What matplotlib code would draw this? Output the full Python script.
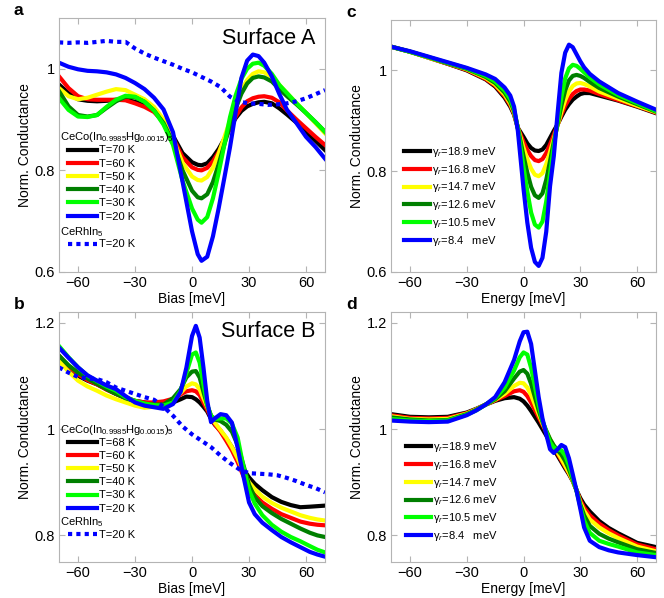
import matplotlib
matplotlib.use("Agg")
from matplotlib import pyplot as plt
from matplotlib.lines import Line2D
from matplotlib.ticker import FuncFormatter

plt.rcParams['font.family'] = ['Liberation Sans', 'DejaVu Sans']
plt.rcParams['mathtext.fontset'] = 'custom'
plt.rcParams['mathtext.rm'] = 'Liberation Sans'
plt.rcParams['mathtext.it'] = 'Liberation Sans:italic'

colors = ['#000000', '#ff0000', '#ffff00', '#007f00', '#00ff00', '#0000ff']

# ---- panel a: Surface A, measured
temps_a = ['T=70 K', 'T=60 K', 'T=50 K', 'T=40 K', 'T=30 K', 'T=20 K']
bias_a = [-70, -65, -60, -55, -50, -45, -40, -35, -30, -25, -20, -15, -10, -5, 0, 3, 5, 8,
          11, 14, 17, 20, 23, 26, 29, 32, 35, 38, 42, 46, 50, 55, 60, 65, 70]
a_70K = [.969, .952, .940, .937, .936, .937, .939, .939, .935, .928, .917, .898, .868, .834, .816, .811, .810, .814,
         .826, .842, .862, .884, .903, .917, .926, .931, .934, .935, .932, .922, .910, .894, .876, .858, .840]
a_60K = [.985, .962, .946, .940, .939, .939, .939, .938, .932, .925, .915, .895, .864, .826, .806, .801, .800, .805,
         .818, .836, .858, .883, .906, .924, .936, .942, .945, .946, .943, .934, .918, .900, .883, .866, .850]
a_50K = [.962, .946, .940, .943, .949, .955, .960, .958, .949, .940, .925, .900, .862, .815, .788, .781, .780, .787,
         .805, .833, .865, .898, .930, .958, .978, .990, .995, .993, .984, .968, .952, .932, .913, .893, .873]
a_40K = [.956, .926, .909, .906, .909, .923, .936, .945, .944, .935, .918, .893, .855, .800, .760, .747, .745, .753,
         .777, .812, .851, .888, .922, .951, .971, .982, .985, .983, .975, .960, .946, .930, .913, .895, .876]
a_30K = [.942, .919, .906, .905, .909, .925, .939, .947, .945, .935, .918, .890, .850, .780, .725, .703, .697, .708,
         .745, .795, .850, .905, .948, .980, 1.000, 1.010, 1.012, 1.006, .990, .968, .952, .932, .913, .895, .876]
a_20K = [1.012, 1.004, .999, .996, .995, .993, .989, .982, .972, .960, .943, .920, .875, .778, .680, .635, .622, .630,
         .670, .725, .785, .846, .915, .982, 1.016, 1.028, 1.025, 1.012, .985, .950, .919, .893, .866, .846, .823]
rh_bias_a = [-70, -65, -60, -55, -50, -45, -40, -35, -30, -25, -20, -15, -10, -5, 0,
             5, 10, 15, 20, 25, 30, 35, 40, 45, 50, 55, 60, 65, 70]
rh_a = [1.052, 1.051, 1.052, 1.051, 1.053, 1.055, 1.053, 1.053, 1.040, 1.030, 1.022, 1.015, 1.008, 1.000, .993,
        .984, .975, .964, .945, .935, .932, .931, .929, .930, .932, .936, .942, .950, .958]

# ---- panel b: Surface B, measured
temps_b = ['T=68 K', 'T=60 K', 'T=50 K', 'T=40 K', 'T=30 K', 'T=20 K']
bias_b = [-70, -65, -60, -55, -50, -45, -40, -35, -30, -25, -20, -15, -10, -6, -3, 0, 2, 4, 6,
          8, 10, 12, 15, 18, 21, 24, 27, 30, 33, 37, 42, 47, 52, 57, 62, 66, 70]
b_68K = [1.131, 1.115, 1.100, 1.091, 1.084, 1.075, 1.066, 1.059, 1.053, 1.050, 1.047, 1.048, 1.050, 1.056, 1.061, 1.060, 1.056, 1.050, 1.042,
         1.033, 1.019, 1.008, .997, .982, .966, .945, .925, .909, .897, .885, .872, .863, .857, .853, .854, .855, .856]
b_60K = [1.138, 1.118, 1.103, 1.092, 1.084, 1.074, 1.066, 1.058, 1.053, 1.050, 1.050, 1.052, 1.057, 1.065, 1.071, 1.073, 1.071, 1.064, 1.050,
         1.036, 1.022, 1.009, .995, .978, .960, .938, .912, .891, .876, .862, .850, .840, .833, .826, .822, .820, .819]
b_50K = [1.128, 1.108, 1.091, 1.080, 1.072, 1.063, 1.056, 1.050, 1.044, 1.040, 1.042, 1.045, 1.055, 1.068, 1.080, 1.086, 1.084, 1.075, 1.058,
         1.042, 1.025, 1.012, .998, .984, .966, .945, .920, .900, .887, .873, .861, .852, .845, .838, .833, .830, .828]
b_40K = [1.138, 1.120, 1.106, 1.095, 1.085, 1.075, 1.066, 1.058, 1.052, 1.047, 1.046, 1.046, 1.058, 1.075, 1.097, 1.108, 1.109, 1.097, 1.070,
         1.045, 1.025, 1.018, 1.015, 1.008, .995, .970, .933, .895, .872, .855, .842, .831, .822, .813, .805, .800, .797]
b_30K = [1.156, 1.135, 1.116, 1.100, 1.090, 1.080, 1.072, 1.060, 1.053, 1.048, 1.045, 1.044, 1.050, 1.072, 1.105, 1.140, 1.144, 1.125, 1.084,
         1.045, 1.025, 1.019, 1.020, 1.020, 1.010, .984, .930, .885, .860, .838, .820, .807, .797, .789, .780, .773, .768]
b_20K = [1.153, 1.134, 1.116, 1.101, 1.091, 1.082, 1.075, 1.062, 1.050, 1.044, 1.041, 1.038, 1.047, 1.070, 1.115, 1.175, 1.194, 1.172, 1.116,
         1.053, 1.013, 1.020, 1.028, 1.026, 1.012, .965, .912, .862, .840, .824, .810, .797, .787, .778, .769, .764, .760]
rh_bias_b = [-70, -65, -60, -55, -50, -45, -40, -35, -30, -25, -20, -15, -10, -5, 0,
             5, 10, 15, 20, 25, 30, 35, 40, 45, 50, 55, 60, 65, 70]
rh_b = [1.116, 1.106, 1.098, 1.095, 1.094, 1.088, 1.078, 1.072, 1.066, 1.060, 1.055, 1.042, 1.025, 1.005, .990,
        .978, .966, .950, .936, .924, .917, .916, .915, .913, .908, .902, .895, .889, .881]

# ---- panel c: model fits for surface A
gammas = ['18.9 meV', '16.8 meV', '14.7 meV', '12.6 meV', '10.5 meV', '8.4   meV']
energy_c = [-70, -60, -50, -40, -30, -20, -15, -10, -7, -5, -3, 0, 2, 4, 6, 8, 10,
            12, 14, 16, 18, 20, 22, 24, 26, 28, 30, 32, 35, 40, 50, 60, 70]
c_189 = [1.047, 1.037, 1.025, 1.013, 1.000, .982, .968, .946, .928, .912, .886, .868, .855, .846, .841, .840, .843,
         .852, .866, .880, .893, .908, .922, .933, .942, .948, .953, .955, .955, .950, .940, .928, .915]
c_168 = [1.047, 1.037, 1.025, 1.013, 1.001, .983, .970, .949, .931, .914, .886, .858, .842, .830, .822, .820, .824,
         .836, .853, .872, .892, .912, .930, .943, .953, .959, .962, .962, .960, .953, .941, .929, .916]
c_147 = [1.047, 1.037, 1.025, 1.014, 1.002, .985, .972, .952, .934, .916, .886, .846, .824, .805, .793, .790, .796,
         .814, .838, .864, .891, .918, .941, .958, .969, .974, .975, .973, .968, .958, .944, .930, .917]
c_126 = [1.047, 1.037, 1.026, 1.014, 1.003, .987, .975, .956, .938, .919, .886, .830, .797, .769, .752, .747, .756,
         .783, .820, .858, .893, .930, .960, .980, .989, .991, .989, .985, .977, .965, .948, .933, .918]
c_105 = [1.047, 1.037, 1.026, 1.015, 1.004, .989, .978, .960, .943, .923, .885, .808, .760, .718, .694, .688, .700,
         .740, .795, .850, .898, .947, .984, 1.004, 1.011, 1.009, 1.003, .996, .986, .972, .951, .935, .919]
c_84 = [1.047, 1.038, 1.027, 1.016, 1.005, .992, .983, .966, .950, .928, .880, .765, .698, .648, .620, .612, .628,
        .680, .770, .830, .915, .995, 1.035, 1.051, 1.046, 1.032, 1.018, 1.006, .993, .978, .955, .938, .922]

# ---- panel d: model fits for surface B
energy_d = [-70, -60, -50, -40, -30, -25, -20, -15, -10, -5, -2, 0, 2, 4, 6, 8, 10,
            12, 14, 16, 18, 20, 22, 24, 26, 28, 30, 32, 35, 40, 45, 50, 60, 70]
d_189 = [1.028, 1.023, 1.022, 1.023, 1.031, 1.038, 1.046, 1.053, 1.058, 1.060, 1.057, 1.052, 1.044, 1.034, 1.023, 1.012, 1.000,
         .988, .975, .962, .950, .938, .926, .915, .902, .885, .870, .858, .845, .827, .814, .804, .786, .778]
d_168 = [1.026, 1.021, 1.020, 1.021, 1.030, 1.037, 1.046, 1.054, 1.062, 1.071, 1.073, 1.070, 1.062, 1.050, 1.036, 1.022, 1.008,
         .994, .980, .967, .954, .941, .929, .917, .903, .885, .866, .852, .838, .822, .810, .800, .783, .774]
d_147 = [1.024, 1.019, 1.018, 1.019, 1.029, 1.037, 1.046, 1.055, 1.066, 1.081, 1.087, 1.086, 1.078, 1.064, 1.046, 1.028, 1.011,
         .996, .981, .968, .956, .944, .931, .918, .903, .885, .862, .846, .830, .815, .804, .795, .779, .770]
d_126 = [1.022, 1.018, 1.016, 1.017, 1.028, 1.036, 1.046, 1.056, 1.071, 1.095, 1.108, 1.111, 1.104, 1.085, 1.060, 1.035, 1.014,
         .997, .981, .969, .960, .952, .940, .924, .905, .885, .858, .838, .818, .803, .794, .787, .774, .767]
d_105 = [1.019, 1.016, 1.015, 1.016, 1.027, 1.035, 1.046, 1.058, 1.078, 1.110, 1.135, 1.144, 1.140, 1.115, 1.080, 1.045, 1.016,
         .995, .975, .965, .962, .960, .950, .932, .908, .884, .854, .828, .805, .790, .784, .779, .768, .763]
d_84 = [1.016, 1.014, 1.013, 1.014, 1.026, 1.035, 1.046, 1.060, 1.088, 1.130, 1.165, 1.182, 1.183, 1.160, 1.110, 1.060, 1.020,
        .990, .962, .955, .962, .970, .966, .945, .915, .884, .850, .815, .790, .778, .772, .768, .763, .759]

xticks = [-60, -30, 0, 30, 60]
lw = 3.0
spine_gray = '#b4b4b4'


def style_axis(ax, ylim, yticks, xlabel, letter):
    ax.set_xlim(-70, 70)
    ax.set_ylim(*ylim)
    ax.set_xticks(xticks)
    ax.set_yticks(yticks)
    ax.yaxis.set_major_formatter(FuncFormatter(lambda v, p: '%g' % v))
    ax.tick_params(direction='in', length=4, width=0.8, color=spine_gray,
                   top=True, right=True, labelsize=10.5, pad=3)
    for s in ax.spines.values():
        s.set_color(spine_gray)
        s.set_linewidth(0.8)
    ax.set_xlabel(xlabel, fontsize=10, labelpad=1)
    ax.set_ylabel('Norm. Conductance', fontsize=10, labelpad=2)
    ax.text(-0.17, 1.0, letter, transform=ax.transAxes, fontsize=12.5,
            fontweight='bold', ha='left', va='bottom')


def measured_legend(ax, labels):
    handles = [Line2D([], [], color=c, lw=lw) for c in colors]
    leg1 = ax.legend(handles, labels, loc='upper left', bbox_to_anchor=(0.035, 0.498),
                     frameon=False, fontsize=8, handlelength=2.6, handletextpad=0.2,
                     labelspacing=0.29, borderpad=0, borderaxespad=0)
    ax.add_artist(leg1)
    ax.text(0.005, 0.53, 'CeCo(In$_{0.9985}$Hg$_{0.0015}$)$_5$', transform=ax.transAxes,
            fontsize=8, ha='left', va='center')
    ax.text(0.005, 0.158, 'CeRhIn$_5$', transform=ax.transAxes,
            fontsize=8, ha='left', va='center')
    dot = Line2D([], [], color='#0000ff', lw=lw, linestyle=(0, (1, 1)), dash_capstyle='butt')
    ax.legend([dot], ['T=20 K'], loc='upper left', bbox_to_anchor=(0.035, 0.128),
              frameon=False, fontsize=8, handlelength=2.6, handletextpad=0.2,
              borderpad=0, borderaxespad=0)


fig = plt.figure(figsize=(6.64, 5.98), dpi=100)
ax_a = fig.add_axes([0.0889, 0.5452, 0.4006, 0.4247])
ax_b = fig.add_axes([0.0889, 0.0602, 0.4006, 0.418])
ax_c = fig.add_axes([0.5889, 0.5452, 0.3991, 0.4214])
ax_d = fig.add_axes([0.5889, 0.0602, 0.3991, 0.418])

# a
for ys, c in zip([a_70K, a_60K, a_50K, a_40K, a_30K, a_20K], colors):
    ax_a.plot(bias_a, ys, color=c, lw=lw, solid_joinstyle='round')
ax_a.plot(rh_bias_a, rh_a, color='#0000ff', lw=lw, linestyle=(0, (1, 1)), dash_capstyle='butt')
style_axis(ax_a, (0.6, 1.1), [0.6, 0.8, 1.0], 'Bias [meV]', 'a')
ax_a.text(0.962, 0.921, 'Surface A', transform=ax_a.transAxes, fontsize=15.5,
          ha='right', va='center')
measured_legend(ax_a, temps_a)

# b
for ys, c in zip([b_68K, b_60K, b_50K, b_40K, b_30K, b_20K], colors):
    ax_b.plot(bias_b, ys, color=c, lw=lw, solid_joinstyle='round')
ax_b.plot(rh_bias_b, rh_b, color='#0000ff', lw=lw, linestyle=(0, (1, 1)), dash_capstyle='butt')
style_axis(ax_b, (0.75, 1.22), [0.8, 1.0, 1.2], 'Bias [meV]', 'b')
ax_b.text(0.962, 0.924, 'Surface B', transform=ax_b.transAxes, fontsize=15.5,
          ha='right', va='center')
measured_legend(ax_b, temps_b)

# c
gamma_labels = ['\u03b3$_r$=' + g for g in gammas]
for ys, c in zip([c_189, c_168, c_147, c_126, c_105, c_84], colors):
    ax_c.plot(energy_c, ys, color=c, lw=lw, solid_joinstyle='round')
style_axis(ax_c, (0.6, 1.1), [0.6, 0.8, 1.0], 'Energy [meV]', 'c')
handles = [Line2D([], [], color=c, lw=lw) for c in colors]
ax_c.legend(handles, gamma_labels, loc='upper left', bbox_to_anchor=(0.05, 0.505),
            frameon=False, fontsize=8, handlelength=2.3, handletextpad=0.2,
            labelspacing=0.35, borderpad=0, borderaxespad=0)

# d
for ys, c in zip([d_189, d_168, d_147, d_126, d_105, d_84], colors):
    ax_d.plot(energy_d, ys, color=c, lw=lw, solid_joinstyle='round')
style_axis(ax_d, (0.75, 1.22), [0.8, 1.0, 1.2], 'Energy [meV]', 'd')
ax_d.legend(handles, gamma_labels, loc='upper left', bbox_to_anchor=(0.055, 0.489),
            frameon=False, fontsize=8, handlelength=2.3, handletextpad=0.2,
            labelspacing=0.35, borderpad=0, borderaxespad=0)

fig.savefig('out.png', dpi=100)
